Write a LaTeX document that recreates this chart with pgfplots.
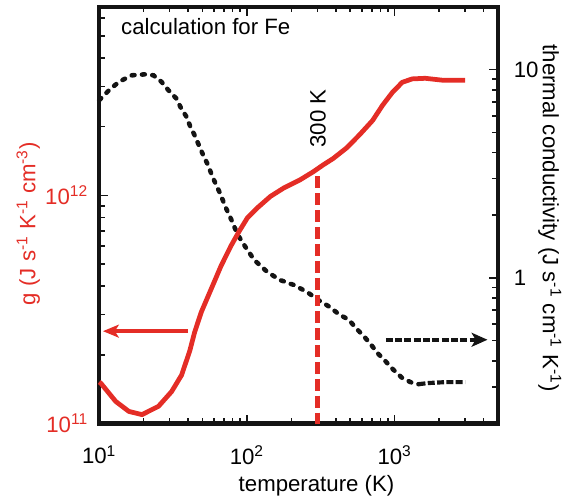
\documentclass[border=0pt]{standalone}
\usepackage{fontspec}
\setmainfont{Liberation Sans}
\usepackage{pgfplots}
\pgfplotsset{compat=1.18}
\usetikzlibrary{arrows.meta}
\definecolor{gred}{RGB}{228,45,38}
\definecolor{kblk}{RGB}{20,20,20}
\newcommand{\fs}{\fontsize{11.2}{13.4}\selectfont}

\begin{document}
\begin{tikzpicture}
% thermal conductivity (right axis)
\begin{axis}[
    scale only axis, width=201pt, height=210pt,
    xmode=log, ymode=log, xmin=10, xmax=5000,
    ymin=0.2, ymax=20,
    tick align=inside,
    axis line style={line width=2.3pt, kblk},
    major tick length=4.5pt, minor tick length=2.8pt,
    tick style={line width=0.8pt, kblk},
    tick label style={font=\fs},
    label style={font=\fs},
    clip=false,
    axis y line*=right, axis x line=none,
    ytick={1,10}, yticklabels={1,10},
    minor ytick={0.3,0.4,0.5,0.6,0.7,0.8,0.9,2,3,4,5,6,7,8,9},
    yticklabel style={xshift=4.5pt},
    ylabel={thermal conductivity (J s\textsuperscript{-1} cm\textsuperscript{-1} K\textsuperscript{-1})},
    ylabel style={at={(axis description cs:1.13,0.493)}, anchor=center, rotate=180},
]
\addplot[kblk, line width=2.3pt, line cap=round, dash pattern=on 1.4pt off 3.8pt] coordinates {
  (10,7.14) (11.66,7.97) (13.6,8.74) (16.6,9.39) (20.6,9.5) (23.3,9.39)
  (26.4,8.74) (29.4,7.97) (33.2,7.28) (35.9,6.52) (38.8,5.97) (41.8,5.24)
  (44.5,4.80) (48.8,4.11) (54.4,3.49) (58.8,3.03) (66.4,2.51) (71.8,2.18)
  (79.9,1.85) (86.2,1.62) (97.6,1.41) (112,1.22) (137,1.07) (167,0.978)
  (207,0.926) (254,0.858) (310,0.777) (362,0.727) (422,0.667) (488,0.631)
  (550,0.572) (620,0.524) (689,0.48) (768,0.435) (868,0.398) (971,0.365)
  (1130,0.330) (1320,0.313) (1450,0.309)
};
\addplot[kblk, line width=2.1pt, dash pattern=on 3.5pt off 1.2pt] coordinates {
  (1450,0.309) (1690,0.313) (2190,0.316) (3000,0.316)
};
\draw[kblk, line width=2.1pt, dash pattern=on 3.5pt off 1.2pt,
      -{Stealth[length=8pt,width=7pt,inset=2pt]}]
  (axis cs:871,0.505) -- (axis cs:4250,0.505);
\end{axis}

% g (left axis)
\begin{axis}[
    scale only axis, width=201pt, height=210pt,
    xmode=log, ymode=log, xmin=10, xmax=5000,
    ymin=1e11, ymax=6.7e12,
    tick align=inside,
    axis line style={line width=2.3pt, kblk},
    major tick length=4.5pt, minor tick length=2.8pt,
    tick style={line width=0.8pt, kblk},
    tick label style={font=\fs},
    label style={font=\fs},
    clip=false,
    xtick pos=both, ytick pos=left,
    xtick={10,100,1000},
    xticklabels={10\textsuperscript{1},10\textsuperscript{2},10\textsuperscript{3}},
    minor xtick={20,30,40,50,60,70,80,90,200,300,400,500,600,700,800,900,2000,3000,4000},
    ytick={1e11,1e12},
    yticklabels={10\textsuperscript{11},10\textsuperscript{12}},
    minor ytick={2e11,3e11,4e11,5e11,6e11,7e11,8e11,9e11,2e12,3e12,4e12,5e12,6e12},
    yticklabel style={gred, xshift=-2pt},
    xticklabel style={yshift=-7.5pt},
    xlabel={temperature (K)},
    xlabel style={at={(axis description cs:0.545,-0.15)}, anchor=center},
    ylabel={g (J s\textsuperscript{-1} K\textsuperscript{-1} cm\textsuperscript{-3})},
    ylabel style={gred, at={(axis description cs:-0.178,0.48)}, anchor=center},
]
\addplot[gred, line width=2.4pt, line join=round] coordinates {
  (10,1.52e11) (10.27,1.50e11) (12.93,1.25e11) (15.88,1.13e11) (19.48,1.094e11)
  (25.2,1.19e11) (30.9,1.38e11) (36.1,1.63e11) (41.0,2.08e11) (44.3,2.52e11)
  (49.1,3.08e11) (57.3,3.89e11) (66.8,4.91e11) (77.9,6.0e11) (88.7,6.97e11)
  (100.7,7.97e11) (117.5,8.81e11) (144.3,9.9e11) (177.3,1.077e12) (229,1.17e12)
  (281.6,1.27e12) (328,1.36e12) (383,1.45e12) (470,1.61e12) (577,1.84e12)
  (709,2.13e12) (827,2.48e12) (966,2.83e12) (1125,3.13e12) (1313,3.24e12)
  (1611,3.26e12) (2084,3.2e12) (3000,3.2e12)
};
\addplot[gred, line width=2.2pt, dash pattern=on 6pt off 2.5pt] coordinates {
  (300,1.21e12) (300,1e11)
};
\draw[gred, line width=1.9pt, -{Stealth[length=8pt,width=6.5pt,inset=2pt]}]
  (axis cs:40,2.54e11) -- (axis cs:10.6,2.54e11);
\node[font=\fs, anchor=base west, inner sep=0] at (axis cs:14,5.05e12) {calculation for Fe};
\node[font=\fs, rotate=90, inner sep=0] at (axis cs:303,2.17e12) {300 K};
\path (axis description cs:-0.2488,-0.181) rectangle (axis description cs:1.1642,1.0167);
\end{axis}
\end{tikzpicture}
\end{document}
